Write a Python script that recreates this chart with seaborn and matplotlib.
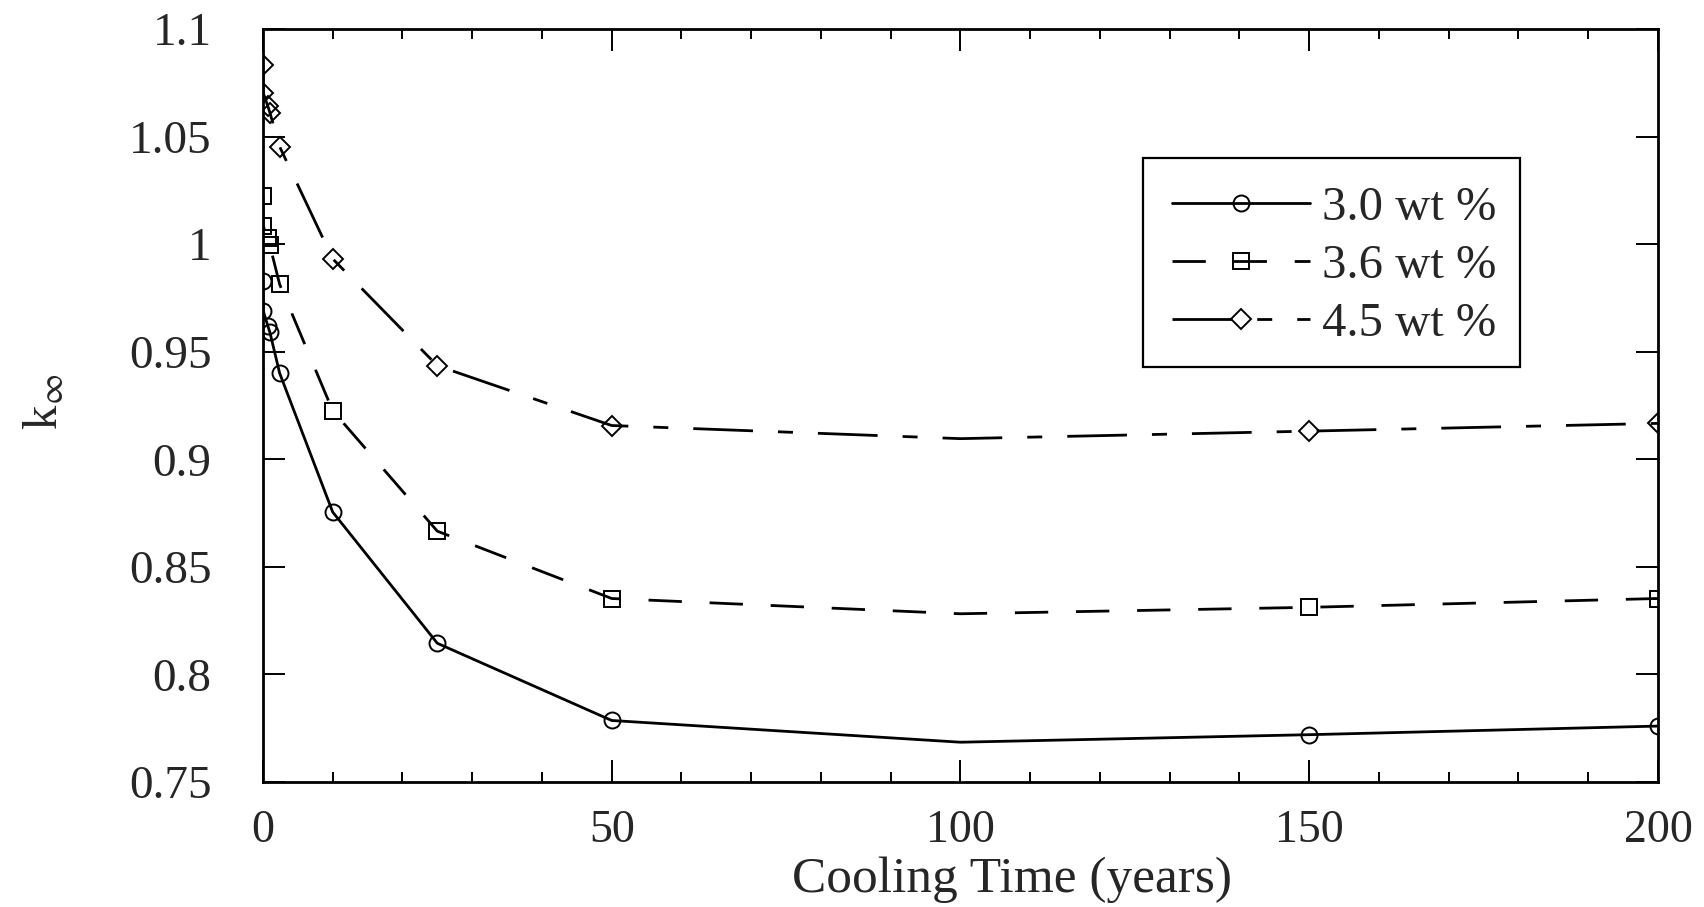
import numpy as np
import pandas as pd
import matplotlib
matplotlib.use("Agg")
import matplotlib.pyplot as plt
import matplotlib.patches as mpatches
import seaborn as sns
from matplotlib.ticker import MultipleLocator

# ---- data ----
cooling_time = [0, 0.05, 0.7, 1.0, 2.4, 10, 25, 50, 100, 150, 200]
k_30 = [0.983, 0.969, 0.962, 0.959, 0.940, 0.8755, 0.8145, 0.7786, 0.7685, 0.772, 0.776]
k_36 = [1.0224, 1.0084, 1.003, 0.9994, 0.9813, 0.9226, 0.8666, 0.8353, 0.8282, 0.8312, 0.8353]
k_45 = [1.0832, 1.0702, 1.0642, 1.0611, 1.0453, 0.9932, 0.9435, 0.9157, 0.9096, 0.9131, 0.9167]
series_labels = ["3.0 wt %", "3.6 wt %", "4.5 wt %"]
x_ticks = [0, 50, 100, 150, 200]
y_ticks = [0.75, 0.8, 0.85, 0.9, 0.95, 1.0, 1.05, 1.1]
y_tick_labels = ["0.75", "0.8", "0.85", "0.9", "0.95", "1", "1.05", "1.1"]

sns.set_theme(style="ticks")
plt.rcParams["font.family"] = ["Liberation Serif", "DejaVu Serif"]
plt.rcParams["mathtext.fontset"] = "stix"

fig = plt.figure(figsize=(17.04, 9.07), dpi=100)
ax = fig.add_axes([0.1543, 0.1378, 0.973 - 0.1543, 0.968 - 0.1378])

styles = [
    dict(marker="o", linestyle="-", ms=11.5),
    dict(marker="s", linestyle=(0, (12, 10)), ms=11.5),
    dict(marker="D", linestyle=(0, (21.5, 9, 5.4, 9)), ms=10.5),
]
marker_idx = [i for i in range(len(cooling_time)) if cooling_time[i] != 100]
handles = []
for vals, lab, st in zip([k_30, k_36, k_45], series_labels, styles):
    df = pd.DataFrame({"t": cooling_time, "k": vals})
    sns.lineplot(data=df, x="t", y="k", ax=ax, color="black", linewidth=2.0,
                 marker=st["marker"], linestyle=st["linestyle"], markersize=st["ms"],
                 markerfacecolor="none", markeredgecolor="black",
                 markeredgewidth=1.4, markevery=marker_idx, label=lab,
                 estimator=None, sort=False)
    handles.append(ax.lines[-1])

ax.set_xlim(0, 200)
ax.set_ylim(0.75, 1.1)
ax.set_xticks(x_ticks)
ax.set_xticklabels([str(v) for v in x_ticks])
ax.xaxis.set_minor_locator(MultipleLocator(10))
ax.set_yticks(y_ticks)
ax.set_yticklabels(y_tick_labels)

ax.tick_params(axis="both", which="major", direction="in", top=True, right=True,
               length=16, width=1.4, color="black")
ax.tick_params(axis="x", which="minor", direction="in", top=True, bottom=True,
               length=7.5, width=1.4, color="black")
ax.tick_params(axis="x", which="major", labelsize=33, pad=20)
ax.tick_params(axis="y", which="major", labelsize=34, pad=37)
for sp in ax.spines.values():
    sp.set_linewidth(2.0)
    sp.set_color("black")

ax.set_xlabel("Cooling Time (years)", fontsize=37)
ax.xaxis.set_label_coords(0.537, -0.1463)
ax.xaxis.label.set_verticalalignment("baseline")
ax.set_ylabel(r"k$_{\infty}$", fontsize=35)
ax.yaxis.set_label_coords(-0.14, 0.505)

leg = ax.legend(handles=handles, labels=series_labels, loc="center left",
                bbox_to_anchor=(0.6514, 0.6854), fontsize=35, frameon=False,
                handlelength=2.85, handletextpad=0.25, borderpad=0.0,
                labelspacing=0.28, borderaxespad=0, numpoints=1)
frame = mpatches.Rectangle((0.6308, 0.5505), 0.9011 - 0.6308, 0.8285 - 0.5505,
                           transform=ax.transAxes, fill=False, edgecolor="black",
                           linewidth=1.6, zorder=5)
ax.add_patch(frame)

fig.savefig("out.png", dpi=100, facecolor="white")
